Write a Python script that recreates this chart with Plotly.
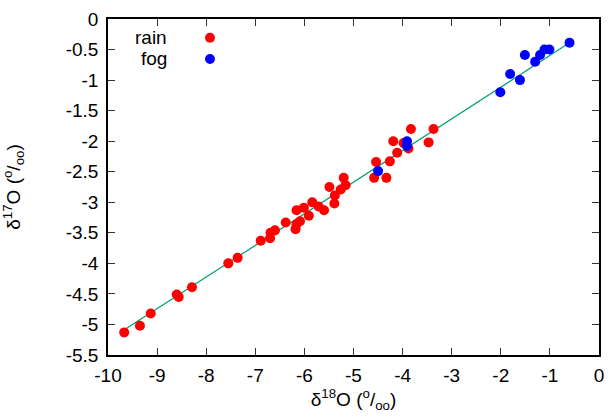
import plotly.graph_objects as go

# delta-18O / delta-17O pairs (per mil)
rain_d18 = [-9.67, -9.35, -9.13, -8.60, -8.56, -8.29, -7.55, -7.36, -6.89, -6.70,
            -6.69, -6.60, -6.38, -6.18, -6.16, -6.09, -6.16, -6.01, -5.91, -5.84,
            -5.71, -5.60, -5.49, -5.39, -5.38, -5.26, -5.16, -5.20, -4.58, -4.33,
            -4.54, -4.26, -3.83, -3.37, -4.19, -3.98, -3.47, -4.11, -3.88]
rain_d17 = [-5.13, -5.02, -4.82, -4.51, -4.55, -4.39, -4.00, -3.91, -3.63, -3.59,
            -3.50, -3.46, -3.33, -3.44, -3.36, -3.31, -3.13, -3.09, -3.22, -3.00,
            -3.07, -3.13, -2.75, -3.02, -2.89, -2.79, -2.72, -2.60, -2.60, -2.60,
            -2.34, -2.33, -1.80, -1.80, -2.00, -2.03, -2.02, -2.19, -2.12]

fog_d18 = [-4.50, -3.91, -3.91, -0.60, -1.01, -1.11, -1.20, -1.51, -1.30, -1.81, -1.61, -2.01]
fog_d17 = [-2.49, -2.00, -2.08, -0.39, -0.50, -0.50, -0.59, -0.59, -0.70, -0.90, -1.00, -1.20]

# regression line through all samples
fit_slope = 0.518
fit_intercept = -0.08
fit_x = [-9.66, -0.60]

x_ticks = list(range(-10, 1))
y_ticks = [0, -0.5, -1, -1.5, -2, -2.5, -3, -3.5, -4, -4.5, -5, -5.5]

FONT = "Liberation Sans, Arial, sans-serif"

fig = go.Figure()
fig.add_trace(go.Scatter(
    x=fit_x, y=[fit_slope * v + fit_intercept for v in fit_x],
    mode="lines", line=dict(color="#009e73", width=1.2), showlegend=False,
    hoverinfo="skip"))
fig.add_trace(go.Scatter(
    x=rain_d18, y=rain_d17, mode="markers", name="rain",
    marker=dict(color="#ff0000", size=10, line=dict(width=0))))
fig.add_trace(go.Scatter(
    x=fog_d18, y=fog_d17, mode="markers", name="fog",
    marker=dict(color="#0000ff", size=10, line=dict(width=0))))

axis_common = dict(
    showgrid=False, zeroline=False, showline=True, linecolor="black", linewidth=1.5,
    mirror="ticks", ticks="inside", ticklen=7, tickwidth=1, tickcolor="#333",
    tickfont=dict(family=FONT, size=19, color="black"),
)

fig.update_xaxes(range=[-10, 0], tickvals=x_ticks, ticktext=[str(v) for v in x_ticks],
                 ticklabelstandoff=2,
                 title=dict(text="δ<sup>18</sup>O (<sup>o</sup>/<sub>oo</sub>)",
                            font=dict(family=FONT, size=19, color="black"), standoff=8),
                 **axis_common)
fig.update_yaxes(range=[-5.5, 0], tickvals=y_ticks, ticktext=[f"{v:g}" for v in y_ticks],
                 ticklabelstandoff=4,
                 title=dict(text="δ<sup>17</sup>O (<sup>o</sup>/<sub>oo</sub>)",
                            font=dict(family=FONT, size=19, color="black"), standoff=40),
                 **axis_common)

# key in the upper-left corner: label text followed by its marker
legend_rows = [("rain", "#ff0000", 0.944), ("fog", "#0000ff", 0.881)]
for label, colour, ypos in legend_rows:
    fig.add_annotation(xref="paper", yref="paper", x=0.125, y=ypos, text=label,
                       showarrow=False, xanchor="right", yanchor="middle",
                       font=dict(family=FONT, size=19, color="black"))
    fig.add_shape(type="circle", xref="paper", yref="paper",
                  x0=0.2077 - 0.0101, x1=0.2077 + 0.0101,
                  y0=ypos - 0.0149, y1=ypos + 0.0149,
                  fillcolor=colour, line=dict(width=0))

fig.update_layout(
    width=613, height=419,
    margin=dict(l=108, r=9, t=18, b=64),
    paper_bgcolor="white", plot_bgcolor="white",
    showlegend=False,
    font=dict(family=FONT, size=19, color="black"),
)

fig.write_html("out.html")
